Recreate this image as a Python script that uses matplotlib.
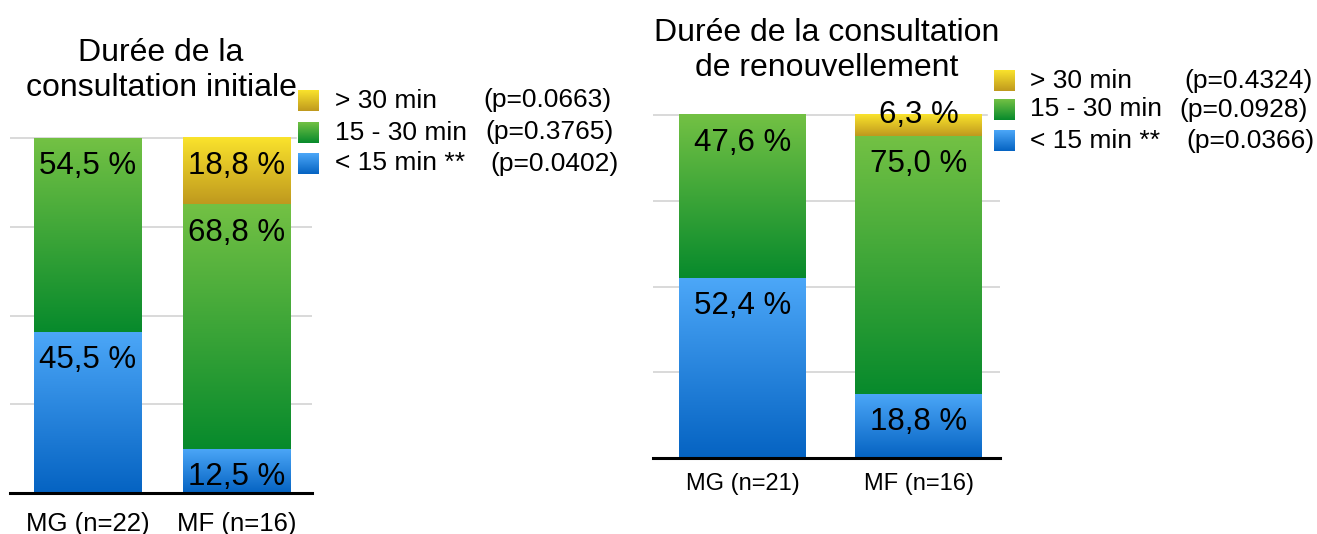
import matplotlib.pyplot as plt
import numpy as np
from matplotlib.colors import LinearSegmentedColormap
from matplotlib.patches import Rectangle

plt.rcParams["font.family"] = ["Liberation Sans", "DejaVu Sans"]

W, H = 1317, 534

# Share of consultations (%) per duration class, ordered MG, MF
groups_initial = ["MG (n=22)", "MF (n=16)"]
initial_lt15 = [45.5, 12.5]
initial_15_30 = [54.5, 68.8]
initial_gt30 = [0.0, 18.8]

groups_renew = ["MG (n=21)", "MF (n=16)"]
renew_lt15 = [52.4, 18.8]
renew_15_30 = [47.6, 75.0]
renew_gt30 = [0.0, 6.3]

# legend rows, top to bottom
classes = ["> 30 min", "15 - 30 min", "< 15 min **"]
pvals_initial = ["(p=0.0663)", "(p=0.3765)", "(p=0.0402)"]
pvals_renew = ["(p=0.4324)", "(p=0.0928)", "(p=0.0366)"]

# vertical gradients, dark at the bottom, light at the top
BLUE = LinearSegmentedColormap.from_list("blue", ["#0563c2", "#4ca7f8"])
GREEN = LinearSegmentedColormap.from_list("green", ["#078a2c", "#73c144"])
GOLD = LinearSegmentedColormap.from_list("gold", ["#bf991e", "#fae32c"])
GRAD = np.linspace(0, 1, 256).reshape(-1, 1)


def px_axes(fig, x0, x1, ytop, ybot, **kw):
    return fig.add_axes([x0 / W, (H - ybot) / H, (x1 - x0) / W, (ybot - ytop) / H], **kw)


def draw_panel(ax, groups, series, width, xlim, title, title_pad, tick_fs, tick_pad):
    x = np.arange(len(groups))
    bottom = np.zeros(len(groups))
    for values, cmap in zip(series, [BLUE, GREEN, GOLD]):
        values = np.asarray(values)
        bars = ax.bar(x, values, width, bottom=bottom, color="none", linewidth=0, zorder=2)
        for rect, v in zip(bars, values):
            if v <= 0:
                continue
            x0, y0 = rect.get_x(), rect.get_y()
            x1, y1 = x0 + rect.get_width(), y0 + rect.get_height()
            ax.imshow(GRAD, cmap=cmap, origin="lower", aspect="auto",
                      extent=(x0, x1, y0, y1), zorder=2, interpolation="bilinear")
            label = f"{v:.1f} %".replace(".", ",")
            cx = (x0 + x1) / 2
            if v < 10:
                # too thin for the text: centre it on the top edge
                ax.annotate(label, (cx, y1), ha="center", va="center",
                            fontsize=22.5, zorder=4, annotation_clip=False)
            else:
                ax.annotate(label, (cx, y1), xytext=(0, -9.5), textcoords="offset points",
                            ha="center", va="top", fontsize=22.5, zorder=4)
        bottom += values

    ax.set_xlim(xlim)
    ax.set_ylim(0, 100.3)
    ax.set_yticks([0, 25, 50, 75, 100])
    ax.yaxis.grid(True, color="#cfcfcf", lw=1.1)
    ax.set_axisbelow(True)
    for side in ("left", "right", "top"):
        ax.spines[side].set_visible(False)
    ax.spines["bottom"].set_linewidth(2.2)
    ax.spines["bottom"].set_zorder(5)
    ax.set_xticks(x, groups)
    ax.tick_params(left=False, labelleft=False, length=0, labelsize=tick_fs, pad=tick_pad)
    ax.annotate(title, xy=(0.5, 1), xycoords="axes fraction", xytext=(0, title_pad),
                textcoords="offset points", ha="center", va="bottom",
                fontsize=23, linespacing=1.22, annotation_clip=False)


def draw_legend(lay, sq_x, rows_y, text_x, p_x, pvals, bg):
    lay.add_patch(Rectangle((bg[0], bg[1]), bg[2], bg[3], color="white", zorder=1))
    for cy, name, px, p, cmap in zip(rows_y, classes, p_x, pvals, [GOLD, GREEN, BLUE]):
        lay.imshow(GRAD, cmap=cmap, origin="lower", aspect="auto",
                   extent=(sq_x, sq_x + 21, cy + 10.5, cy - 10.5), zorder=2)
        lay.text(text_x, cy, name, va="center", ha="left", fontsize=19, zorder=3)
        lay.text(px, cy, p, va="center", ha="left", fontsize=19, zorder=3)


fig = plt.figure(figsize=(W / 100, H / 100), dpi=100)

ax1 = px_axes(fig, 10, 312, 137, 493)
draw_panel(ax1, groups_initial, [initial_lt15, initial_15_30, initial_gt30],
           0.716, (-0.518, 1.502), "Durée de la\nconsultation initiale", 24.5, 18.5, 13.5)

ax2 = px_axes(fig, 653, 1000, 114, 458)
draw_panel(ax2, groups_renew, [renew_lt15, renew_15_30, renew_gt30],
           0.72, (-0.509, 1.463), "Durée de la consultation\nde renouvellement", 22.5, 17, 10.5)

# legends sit on a full-figure layer in pixel units
lay = fig.add_axes([0, 0, 1, 1], zorder=10)
lay.set_xlim(0, W)
lay.set_ylim(H, 0)
lay.axis("off")
lay.patch.set_alpha(0)
draw_legend(lay, 298, [100.5, 132.5, 163.5], 335, [483, 485, 490], pvals_initial,
            (297, 86, 330, 92))
draw_legend(lay, 994, [81, 109.5, 141], 1030, [1184, 1179, 1186], pvals_renew,
            (988, 66, 329, 90))

fig.savefig("out.png", dpi=100)
